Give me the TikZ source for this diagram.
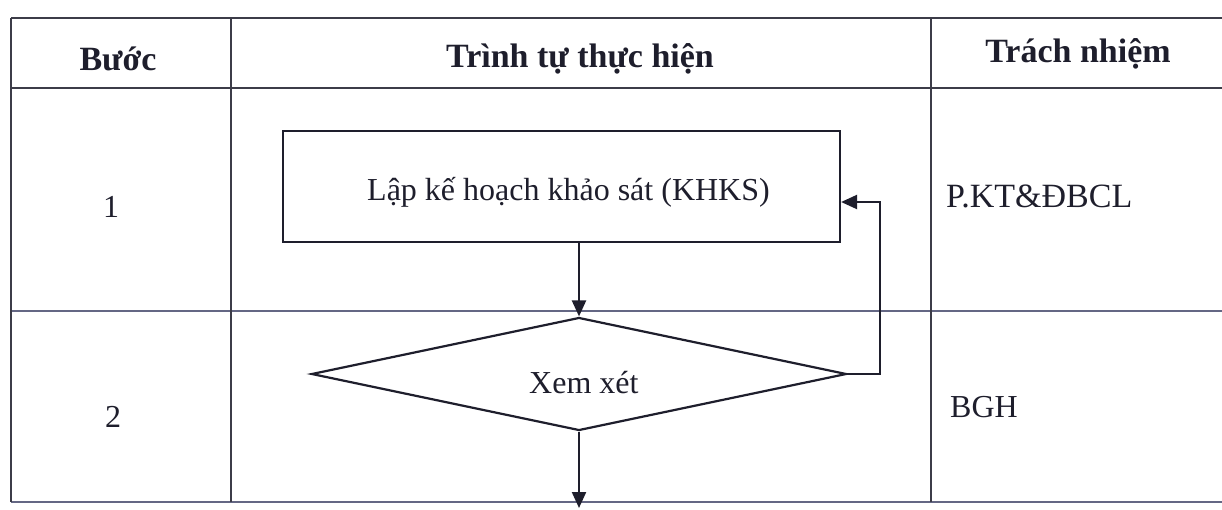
\documentclass[tikz,border=0pt]{standalone}
\usepackage{fontspec}
\setmainfont{Liberation Serif}
\usetikzlibrary{arrows.meta,shapes.geometric,calc}

\definecolor{ink}{RGB}{30,30,44}
\definecolor{rulestrong}{RGB}{60,60,72}
\definecolor{rulesoft}{RGB}{100,103,132}

\tikzset{
  grid rule/.style={draw=rulestrong, line width=1.8pt},
  soft rule/.style={draw=rulesoft, line width=1.7pt},
  flowshape/.style={draw=ink, line width=2.2pt, inner sep=0pt},
  flowarrow/.style={draw=ink, line width=2.2pt,
    -{Triangle[length=16pt,width=14pt]}},
  headtext/.style={anchor=base, text=ink,
    font=\bfseries\fontsize{34}{40}\selectfont},
  celltext/.style={text=ink, inner sep=0pt,
    font=\fontsize{32}{38}\selectfont},
  bigcell/.style={celltext, font=\fontsize{34}{40}\selectfont},
}

\begin{document}
\begin{tikzpicture}[x=1pt,y=-1pt]
  \useasboundingbox[fill=white] (0,0) rectangle (1222,509);

  % table rules
  \draw[grid rule] (11,18) -- (1222,18);
  \draw[grid rule] (11,88) -- (1222,88);
  \draw[soft rule] (11,311) -- (1222,311);
  \draw[soft rule] (11,502) -- (1222,502);
  \draw[grid rule] (11,18) -- (11,502);
  \draw[grid rule] (231,18) -- (231,502);
  \draw[grid rule] (931,18) -- (931,502);

  % header row
  \node[headtext] (hstep) at (118,70) {Bước};
  \node[headtext] (hproc) at (580,67) {Trình tự thực hiện};
  \node[headtext] (hresp) at (1078,62) {Trách nhiệm};

  % step numbers
  \node[celltext, anchor=base] (n1) at (111,217) {1};
  \node[celltext, anchor=base] (n2) at (113,427) {2};

  % responsibilities
  \node[bigcell, anchor=base west] (r1) at (946,207) {P.KT\&ĐBCL};
  \node[celltext, anchor=base west] (r2) at (950,417) {BGH};

  % flow shapes
  \node[flowshape, rectangle, minimum width=557pt, minimum height=111pt]
    (plan) at (561.5,186.5) {};
  \node[celltext, anchor=base west] (plantext) at (367,200)
    {Lập kế hoạch khảo sát (KHKS)};

  \node[flowshape, diamond, minimum width=535pt, minimum height=113pt]
    (review) at (579,374) {};
  \node[celltext, anchor=base west] (reviewtext) at (529,393) {Xem xét};

  % connectors
  \draw[flowarrow] (plan.south -| review.north) -- (review.north);
  \draw[flowarrow] (review.east) -- ++(32,0) |- ([yshift=-15.5pt]plan.east);
  \coordinate (next) at (review.south |- 0,508);
  \draw[flowarrow] (review.south) -- (next);
\end{tikzpicture}
\end{document}
